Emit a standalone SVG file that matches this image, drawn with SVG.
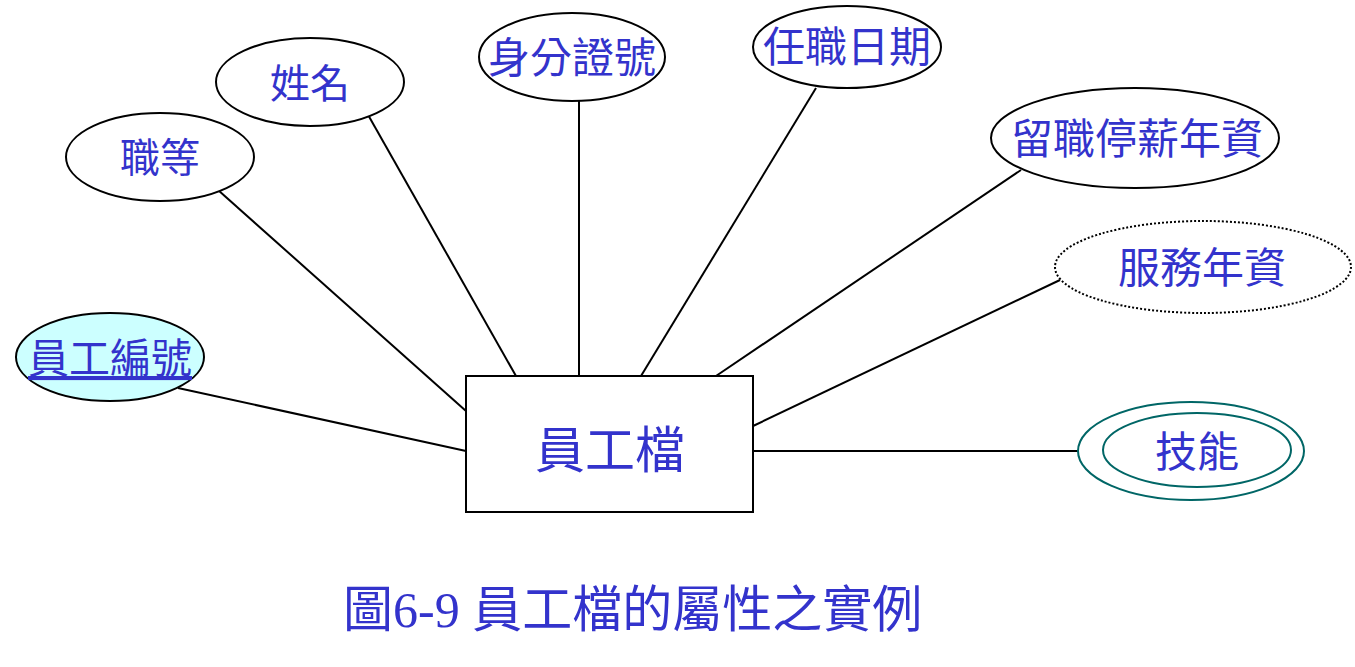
<svg xmlns="http://www.w3.org/2000/svg" width="1355" height="667" viewBox="0 0 1355 667">
<style>
.e{fill:#fff;stroke:#000;stroke-width:2}
.t{font-family:"Liberation Sans","Noto Sans CJK TC",sans-serif;fill:#3333cc;text-anchor:middle}
.c line{stroke:#000;stroke-width:2}
</style>
<rect width="1355" height="667" fill="#fff"/>
<g class="c" id="connectors">
<line x1="178" y1="388" x2="466" y2="451"/>
<line x1="218" y1="190" x2="466" y2="411"/>
<line x1="367" y1="113" x2="516" y2="376"/>
<line x1="579" y1="101" x2="579" y2="376"/>
<line x1="816" y1="88" x2="641" y2="376"/>
<line x1="1021" y1="170" x2="716" y2="376"/>
<line x1="1060" y1="280" x2="753" y2="426"/>
<line x1="753" y1="451" x2="1078" y2="451"/>
</g>
<g id="entity">
<rect x="466" y="376" width="287" height="136" fill="#fff" stroke="#000" stroke-width="2"/>
<text class="t" x="610" y="468" font-size="50">員工檔</text>
</g>
<g id="empno">
<ellipse cx="110" cy="357" rx="94" ry="44" fill="#ccffff" stroke="#000" stroke-width="2"/>
<text class="t" x="110" y="373" font-size="41" text-decoration="underline">員工編號</text>
</g>
<g id="grade">
<ellipse class="e" cx="160" cy="157" rx="94" ry="44"/>
<text class="t" x="160" y="172" font-size="40">職等</text>
</g>
<g id="name">
<ellipse class="e" cx="310" cy="82" rx="94" ry="44"/>
<text class="t" x="310" y="98" font-size="40">姓名</text>
</g>
<g id="idno">
<ellipse class="e" cx="572" cy="57" rx="93" ry="44"/>
<text class="t" x="572" y="73" font-size="42">身分證號</text>
</g>
<g id="hiredate">
<ellipse class="e" cx="847" cy="47" rx="94" ry="41"/>
<text class="t" x="847" y="62" font-size="42">任職日期</text>
</g>
<g id="leave">
<ellipse class="e" cx="1135" cy="138" rx="144" ry="50"/>
<text class="t" x="1137" y="154" font-size="42">留職停薪年資</text>
</g>
<g id="service">
<ellipse cx="1203" cy="267" rx="148" ry="46" fill="#fff" stroke="#000" stroke-width="2" stroke-dasharray="2,2"/>
<text class="t" x="1202" y="283" font-size="42">服務年資</text>
</g>
<g id="skill">
<ellipse cx="1191" cy="451" rx="113" ry="49" fill="#fff" stroke="#006666" stroke-width="2"/>
<ellipse cx="1197" cy="450" rx="94" ry="37" fill="none" stroke="#006666" stroke-width="2"/>
<text class="t" x="1197" y="467" font-size="42">技能</text>
</g>
<text x="343" y="627" font-family="'Liberation Serif','Noto Sans CJK TC',serif" font-size="50" fill="#3333cc">圖6-9 員工檔的屬性之實例</text>
</svg>
